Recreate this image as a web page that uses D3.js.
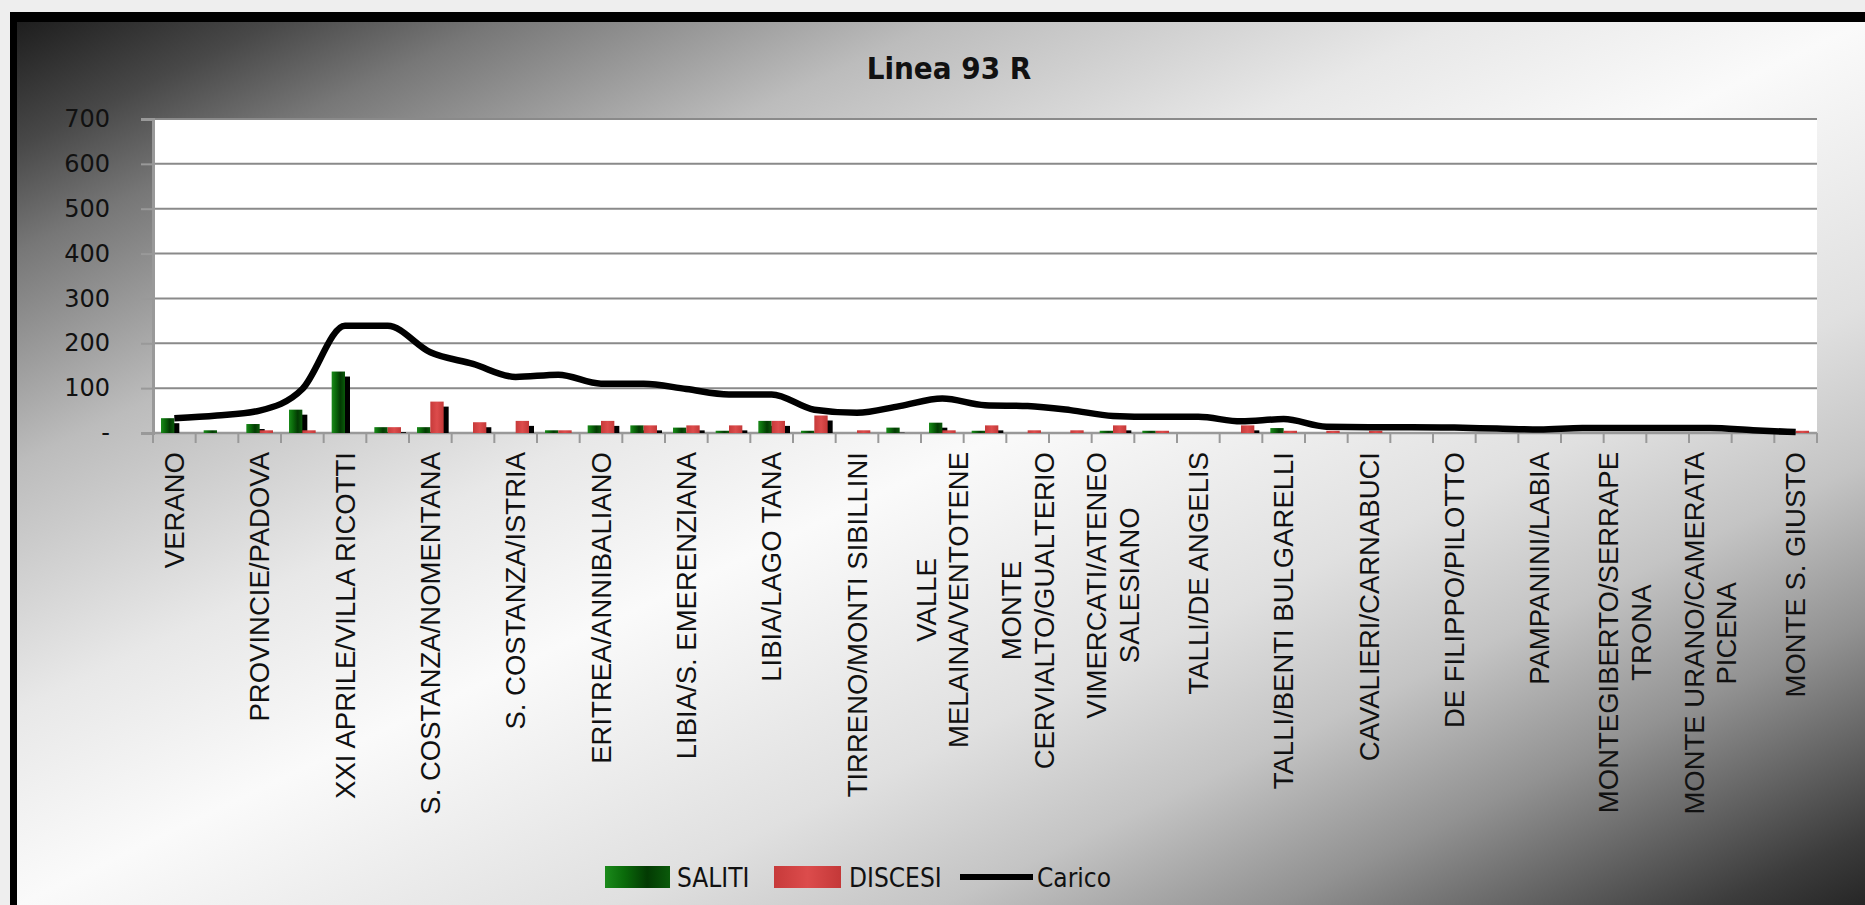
<!DOCTYPE html>
<html><head><meta charset="utf-8">
<script src="https://cdn.jsdelivr.net/npm/d3@7"></script>
<style>html,body{margin:0;padding:0;overflow:hidden;background:#eeeeee}</style>
</head><body><svg id="c" width="1865" height="905"></svg>
<script>
// ---- data ----
const categories = ["VERANO", null, "PROVINCIE/PADOVA", null, "XXI APRILE/VILLA RICOTTI", null,
  "S. COSTANZA/NOMENTANA", null, "S. COSTANZA/ISTRIA", null, "ERITREA/ANNIBALIANO", null,
  "LIBIA/S. EMERENZIANA", null, "LIBIA/LAGO TANA", null, "TIRRENO/MONTI SIBILLINI", null,
  "VALLE\nMELAINA/VENTOTENE", null, "MONTE\nCERVIALTO/GUALTERIO", null,
  "VIMERCATI/ATENEO\nSALESIANO", null, "TALLI/DE ANGELIS", null, "TALLI/BENTI BULGARELLI", null,
  "CAVALIERI/CARNABUCI", null, "DE FILIPPO/PILOTTO", null, "PAMPANINI/LABIA", null,
  "MONTEGIBERTO/SERRAPE\nTRONA", null, "MONTE URANO/CAMERATA\nPICENA", null, "MONTE S. GIUSTO"];
const saliti  = [33,6,20,52,137,13,13,0,0,6,17,17,12,5,27,5,0,12,23,5,0,0,5,5,0,0,11,0,0,0,0,0,0,0,0,0,0,0,0];
const discesi = [0,0,6,6,0,13,70,24,27,6,27,17,17,17,27,39,6,0,6,17,6,6,17,5,0,17,5,5,5,0,0,0,0,0,0,0,0,0,5];
const carico  = [33,39,50,98,239,239,180,154,125,130,110,110,98,86,86,52,45,60,77,62,60,51,38,36,36,26,31,14,13,13,12,10,8,11,11,11,11,6,2];
const yTicks = [0,100,200,300,400,500,600,700];
const yTickLabels = ["-","100","200","300","400","500","600","700"];
const seriesNames = ["SALITI","DISCESI","Carico"];
const title = "Linea 93 R";

// ---- layout ----
const W = 1865, H = 905;
const svg = d3.select("#c");
const defs = svg.append("defs");

const bg = defs.append("linearGradient").attr("id","bg").attr("x1",0).attr("y1",0).attr("x2",1).attr("y2",1);
[[0,"#1e1e1e"],[0.07,"#484848"],[0.13,"#777"],[0.25,"#bcbcbc"],[0.39,"#e8e8e8"],[0.5,"#fafafa"],
 [0.66,"#e0e0e0"],[0.75,"#c4c4c4"],[0.84,"#929292"],[0.91,"#606060"],[0.96,"#3c3c3c"],[1,"#262626"]]
  .forEach(s=>bg.append("stop").attr("offset",s[0]).attr("stop-color",s[1]));
const gG = defs.append("linearGradient").attr("id","gG").attr("x1",0).attr("y1",0).attr("x2",1).attr("y2",0);
[[0,"#1b8a1b"],[0.3,"#0a6a0a"],[0.65,"#033a03"],[1,"#0a5a0a"]].forEach(s=>gG.append("stop").attr("offset",s[0]).attr("stop-color",s[1]));
const rG = defs.append("linearGradient").attr("id","rG").attr("x1",0).attr("y1",0).attr("x2",1).attr("y2",0);
[[0,"#c73a3a"],[0.5,"#dc4c4c"],[1,"#c43838"]].forEach(s=>rG.append("stop").attr("offset",s[0]).attr("stop-color",s[1]));

svg.append("rect").attr("width",W).attr("height",H).attr("fill","#eeeeee");
svg.append("rect").attr("x",10).attr("y",12).attr("width",W-10).attr("height",H-12).attr("fill","#000");
svg.append("rect").attr("x",17).attr("y",22).attr("width",W-17).attr("height",H-22).attr("fill","url(#bg)");

const L = 153, R = 1817, T = 119, B = 433;
const x = d3.scaleBand().domain(d3.range(categories.length)).range([L,R]).padding(0);
const x1 = d3.scaleBand().domain(["s","d"]).range([x.bandwidth()*0.1875, x.bandwidth()*0.8125]);
const y = d3.scaleLinear().domain([0,700]).range([B,T]);

svg.append("text").attr("x",949).attr("y",79).attr("text-anchor","middle")
  .attr("font-family","'DejaVu Sans Condensed','Liberation Sans Narrow','DejaVu Sans',sans-serif")
  .attr("font-weight","bold").attr("font-size",31).attr("fill","#111").text(title);

svg.append("rect").attr("x",L).attr("y",T).attr("width",R-L).attr("height",B-T).attr("fill","#fff");

// gridlines
svg.append("g").selectAll("line").data(yTicks.filter(d=>d>0)).join("line")
  .attr("x1",L).attr("x2",R).attr("y1",d=>y(d)).attr("y2",d=>y(d))
  .attr("stroke","#8a8a8a").attr("stroke-width",2);

// y axis
const ya = svg.append("g").attr("transform",`translate(${L},0)`)
  .call(d3.axisLeft(y).tickValues(yTicks).tickSize(12).tickPadding(31).tickFormat((d,i)=>yTickLabels[i]));
ya.select(".domain").attr("stroke","#999").attr("stroke-width",3);
ya.selectAll(".tick line").attr("stroke","#999").attr("stroke-width",2);
ya.selectAll(".tick text").attr("font-family","'DejaVu Sans',sans-serif").attr("font-size",24).attr("fill","#111");

// x axis baseline + ticks at category boundaries
svg.append("line").attr("x1",L).attr("x2",R).attr("y1",y(0)).attr("y2",y(0)).attr("stroke","#999").attr("stroke-width",2.5);
const bounds = d3.range(categories.length).map(i=>x(i)).concat([x(categories.length-1)+x.bandwidth()]);
svg.append("g").selectAll("line").data(bounds).join("line")
  .attr("x1",d=>d).attr("x2",d=>d).attr("y1",y(0)).attr("y2",y(0)+10)
  .attr("stroke","#999").attr("stroke-width",2);

// bars
const bars = [];
saliti.forEach((v,i)=>bars.push({i,k:"s",v}));
discesi.forEach((v,i)=>bars.push({i,k:"d",v}));
const bw = x1.bandwidth();
const sh = 5;
svg.append("g").selectAll("rect").data(bars.filter(d=>d.v>0)).join("rect")
  .attr("x",d=>x(d.i)+x1(d.k)+sh).attr("width",bw)
  .attr("y",d=>Math.min(y(d.v)+sh,y(0))).attr("height",d=>Math.max(0,y(0)-y(d.v)-sh))
  .attr("fill","#000");
svg.append("g").selectAll("rect").data(bars.filter(d=>d.k==="s"&&d.v>0)).join("rect")
  .attr("x",d=>x(d.i)+x1(d.k)).attr("width",bw)
  .attr("y",d=>y(d.v)).attr("height",d=>y(0)-y(d.v)).attr("fill","url(#gG)");
svg.append("g").selectAll("rect").data(bars.filter(d=>d.k==="d"&&d.v>0)).join("rect")
  .attr("x",d=>x(d.i)+x1(d.k)).attr("width",bw)
  .attr("y",d=>y(d.v)).attr("height",d=>y(0)-y(d.v)).attr("fill","url(#rG)");

// line
const line = d3.line().x((d,i)=>x(i)+x.bandwidth()/2).y(d=>y(d)).curve(d3.curveMonotoneX);
svg.append("path").datum(carico).attr("d",line).attr("fill","none").attr("stroke","#000")
  .attr("stroke-width",6.5).attr("stroke-linejoin","round");

// x labels
const lblG = svg.append("g");
categories.forEach((name,i)=>{
  if(!name) return;
  const lines = name.split("\n");
  const g = lblG.append("g").attr("transform",`translate(${x(i)+x.bandwidth()/2},452) rotate(-90)`);
  const texts = lines.map((t,k)=> g.append("text").text(t)
    .attr("y",(k-(lines.length-1)/2)*32.5).attr("dy","0.35em")
    .attr("font-family","'Liberation Sans',Arial,sans-serif").attr("font-size",27.5).attr("fill","#111"));
  const len = d3.max(texts, t=>t.node().getComputedTextLength());
  texts.forEach(t=>t.attr("x",-len/2).attr("text-anchor","middle"));
});

// legend
const lf = "'DejaVu Sans Condensed','Liberation Sans Narrow','DejaVu Sans',sans-serif";
const lg = svg.append("g");
lg.append("rect").attr("x",605).attr("y",866).attr("width",65).attr("height",22).attr("fill","url(#gG)");
lg.append("text").attr("x",677).attr("y",887).text(seriesNames[0]);
lg.append("rect").attr("x",774).attr("y",866).attr("width",67).attr("height",22).attr("fill","url(#rG)");
lg.append("text").attr("x",849).attr("y",887).text(seriesNames[1]);
lg.append("line").attr("x1",960).attr("x2",1033).attr("y1",877).attr("y2",877).attr("stroke","#000").attr("stroke-width",6);
lg.append("text").attr("x",1037).attr("y",887).text(seriesNames[2]);
lg.selectAll("text").attr("font-family",lf).attr("font-size",26).attr("fill","#111");
</script></body></html>
